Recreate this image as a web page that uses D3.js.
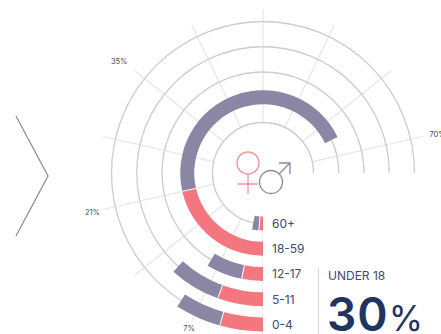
<!DOCTYPE html>
<html>

<head>
    <title>Under 18</title>
    <script src="https://d3js.org/d3.v7.min.js"></script>
    <style>
        html, body {
            margin: 0;
            padding: 0;
            background: #fff;
            overflow: hidden;
        }

        text {
            font-family: Inter, sans-serif;
            fill: #3d4b6e;
        }
    </style>
</head>

<body>
    <script>
        // all values in percent
        var ages = ["60+", "18-59", "12-17", "5-11", "0-4"];
        var female = [1.1, 21, 3.1, 5.4, 4.3];
        var male = [1.9, 45.5, 5.3, 6.1, 4.6];
        var spokeValues = [0, 7, 14, 21, 28, 35, 42, 49, 56, 63, 70, 77, 84, 91];
        var spokeLabels = [7, 21, 35, 70];

        var width = 441, height = 334;
        var cx = 263, cy = 173;
        var thickness = 14;

        var svg = d3.select("body").append("svg")
            .attr("width", width)
            .attr("height", height)
            .style("display", "block");

        // 0 sits at the bottom, going clockwise, 98% is the full circle
        var angle = d3.scaleLinear().domain([0, 98]).range([Math.PI, 3 * Math.PI]);
        var ring = d3.scalePoint().domain(ages).range([50.5, 151.5]);

        // chevron on the left
        svg.append("path")
            .attr("d", d3.line()([[16, 116], [48, 176], [16, 236]]))
            .attr("fill", "none")
            .attr("stroke", "#8b8b8b")
            .attr("stroke-width", 1.2);

        var g = svg.append("g")
            .attr("transform", "translate(" + cx + "," + cy + ")");

        g.selectAll(".spoke")
            .data(spokeValues)
            .enter().append("line")
            .attr("class", "spoke")
            .attr("x1", d => 50 * Math.sin(angle(d)))
            .attr("y1", d => -50 * Math.cos(angle(d)))
            .attr("x2", d => 164 * Math.sin(angle(d)))
            .attr("y2", d => -164 * Math.cos(angle(d)))
            .attr("stroke", "#e6e6e6")
            .attr("stroke-width", 1.2);

        g.selectAll(".ring")
            .data(ages)
            .enter().append("circle")
            .attr("class", "ring")
            .attr("r", d => ring(d))
            .attr("fill", "none")
            .attr("stroke", "#cccccc")
            .attr("stroke-width", 1.3);

        // lower right quarter is blanked out for the labels
        svg.append("rect")
            .attr("x", cx)
            .attr("y", cy)
            .attr("width", width - cx)
            .attr("height", height - cy)
            .attr("fill", "#fff");

        g.append("line")
            .attr("y1", 44)
            .attr("y2", height - cy)
            .attr("stroke", "#eeeeee")
            .attr("stroke-width", 1);

        var arc = d3.arc();

        function barArc(age, from, to) {
            return arc({
                innerRadius: ring(age) - thickness / 2,
                outerRadius: ring(age) + thickness / 2,
                startAngle: angle(from),
                endAngle: angle(to)
            });
        }

        g.selectAll(".male")
            .data(ages)
            .enter().append("path")
            .attr("class", "male")
            .attr("d", (d, i) => barArc(d, female[i], female[i] + male[i]))
            .attr("fill", "#8a86a4");

        g.selectAll(".female")
            .data(ages)
            .enter().append("path")
            .attr("class", "female")
            .attr("d", (d, i) => barArc(d, 0, female[i]))
            .attr("fill", "#f4777f");

        // thin white gap between female and male
        g.selectAll(".gap")
            .data(ages)
            .enter().append("line")
            .attr("class", "gap")
            .attr("x1", (d, i) => (ring(d) - thickness / 2) * Math.sin(angle(female[i])))
            .attr("y1", (d, i) => -(ring(d) - thickness / 2) * Math.cos(angle(female[i])))
            .attr("x2", (d, i) => (ring(d) + thickness / 2) * Math.sin(angle(female[i])))
            .attr("y2", (d, i) => -(ring(d) + thickness / 2) * Math.cos(angle(female[i])))
            .attr("stroke", "#fff")
            .attr("stroke-width", 1);

        // labels do not sit exactly on the spoke in the original
        var labelNudge = { 7: [2, -2], 21: [0, 0], 35: [-2, 2.5], 70: [4, 0] };

        g.selectAll(".spoke-label")
            .data(spokeLabels)
            .enter().append("text")
            .attr("class", "spoke-label")
            .attr("x", d => 175 * Math.sin(angle(d)) + labelNudge[d][0] + (d === 35 ? -5 : 0))
            .attr("y", d => -175 * Math.cos(angle(d)) + labelNudge[d][1] + (d === 35 ? -5 : 0))
            .attr("text-anchor", "middle")
            .attr("dy", "0.35em")
            .attr("font-size", 7.5)
            .text(d => d + "%");

        svg.selectAll(".age-label")
            .data(ages)
            .enter().append("text")
            .attr("class", "age-label")
            .attr("x", cx + 9)
            .attr("y", d => cy + ring(d))
            .attr("dy", "0.36em")
            .attr("font-size", 12)
            .text(d => d);

        // gender symbols
        var femaleSign = svg.append("g")
            .attr("fill", "none")
            .attr("stroke", "#f4959c")
            .attr("stroke-width", 1.3);
        femaleSign.append("circle").attr("cx", 248).attr("cy", 163).attr("r", 11);
        femaleSign.append("path").attr("d", "M248,174V194M238,184H258");

        var maleSign = svg.append("g")
            .attr("fill", "none")
            .attr("stroke", "#8a86a4")
            .attr("stroke-width", 1.3);
        maleSign.append("circle").attr("cx", 271).attr("cy", 182).attr("r", 11.5);
        maleSign.append("path").attr("d", "M279,174L290,163M279,163H290V174");

        // under 18 callout
        svg.append("line")
            .attr("x1", 318.5)
            .attr("x2", 318.5)
            .attr("y1", 268)
            .attr("y2", 334)
            .attr("stroke", "#d9d9d9")
            .attr("stroke-width", 1.2);

        svg.append("text")
            .attr("x", 328)
            .attr("y", 280)
            .attr("font-size", 12)
            .text("UNDER 18");

        var big = svg.append("text")
            .attr("x", 327)
            .attr("y", 330.5)
            .attr("font-size", 46)
            .attr("letter-spacing", 1)
            .style("fill", "#1f3560");
        big.append("tspan").attr("font-weight", 600).text("30");
        big.append("tspan").attr("font-size", 35).text("%");
    </script>
</body>

</html>
